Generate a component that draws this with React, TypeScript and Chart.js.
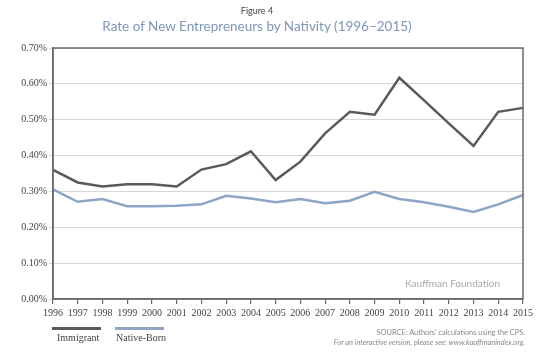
import React, { useEffect, useRef } from "react";
import { Chart, registerables } from "chart.js";

Chart.register(...registerables);

const years = ["1996","1997","1998","1999","2000","2001","2002","2003","2004","2005","2006","2007","2008","2009","2010","2011","2012","2013","2014","2015"];
const immigrant = [0.36,0.325,0.314,0.32,0.32,0.314,0.361,0.376,0.412,0.332,0.383,0.462,0.522,0.514,0.617,0.554,0.49,0.427,0.522,0.533];
const nativeBorn = [0.306,0.271,0.279,0.259,0.259,0.26,0.264,0.288,0.28,0.27,0.279,0.267,0.274,0.299,0.279,0.27,0.257,0.243,0.264,0.29];
const yTicks = [0, 0.1, 0.2, 0.3, 0.4, 0.5, 0.6, 0.7];

const darkGray = "#5a5a5a";
const blue = "#8fa5c6";

const frame = {
  id: "frame",
  afterDraw(chart: any) {
    const { ctx, chartArea: a } = chart;
    ctx.save();
    ctx.strokeStyle = "#6a6a6a";
    ctx.lineWidth = 1.5;
    ctx.strokeRect(a.left, a.top, a.right - a.left, a.bottom - a.top);
    ctx.restore();
  },
};

export default function App() {
  const ref = useRef<HTMLCanvasElement>(null);
  useEffect(() => {
    const chart = new Chart(ref.current!, {
      type: "line",
      data: {
        labels: years,
        datasets: [
          { label: "Immigrant", data: immigrant, borderColor: darkGray, borderWidth: 2.5, pointRadius: 0, tension: 0 },
          { label: "Native-Born", data: nativeBorn, borderColor: blue, borderWidth: 2.5, pointRadius: 0, tension: 0 },
        ],
      },
      options: {
        animation: false,
        responsive: false,
        maintainAspectRatio: false,
        layout: { padding: { top: 48, right: 35, left: 0, bottom: 0 } },
        plugins: { legend: { display: false }, tooltip: { enabled: false } },
        scales: {
          x: {
            offset: false,
            grid: { drawOnChartArea: false, drawTicks: true, tickLength: 5, color: "#6a6a6a", lineWidth: 1.2 },
            border: { display: true, color: "#6a6a6a", width: 1.5 },
            ticks: { color: "#444", font: { family: "Liberation Serif", size: 10 }, padding: 3, maxRotation: 0, autoSkip: false },
            afterFit(s: any) { s.height = 57; },
          },
          y: {
            min: 0,
            max: 0.7,
            afterBuildTicks(s: any) { s.ticks = yTicks.map((v) => ({ value: v })); },
            grid: { color: "#d6d6d6", lineWidth: 1, tickLength: 4, drawTicks: true },
            border: { display: true, color: "#6a6a6a", width: 1.5 },
            ticks: {
              color: "#444",
              font: { family: "Liberation Serif", size: 10 },
              padding: 2,
              callback: (v: any) => Number(v).toFixed(2) + "%",
            },
            afterFit(s: any) { s.width = 53; },
          },
        },
      },
      plugins: [frame],
    });
    return () => chart.destroy();
  }, []);

  const abs = (o: React.CSSProperties): React.CSSProperties => ({ position: "absolute", margin: 0, whiteSpace: "nowrap", lineHeight: 1, ...o });

  return (
    <div style={{ position: "fixed", left: 0, top: 0, width: 558, height: 356, background: "#fff", overflow: "hidden" }}>
      <canvas ref={ref} width={558} height={356} style={{ position: "absolute", left: 0, top: 0 }} />
      <div style={abs({ left: 0, width: 514, top: 6, textAlign: "center", fontFamily: "Lato", fontSize: 9, color: "#444" })}>Figure 4</div>
      <div style={abs({ left: 0, width: 514, top: 20, textAlign: "center", fontFamily: "Lato", fontSize: 13.5, color: "#7f96b8" })}>Rate of New Entrepreneurs by Nativity (1996–2015)</div>
      <div style={abs({ left: 405, top: 278, fontFamily: "Lato", fontSize: 10, color: "#a8a8a8" })}>Kauffman Foundation</div>
      <div style={abs({ left: 52, top: 327, width: 49, height: 3, background: darkGray })} />
      <div style={abs({ left: 115, top: 327, width: 49, height: 3, background: blue })} />
      <div style={abs({ left: 57, top: 333, fontFamily: "Liberation Serif", fontSize: 10, color: "#444" })}>Immigrant</div>
      <div style={abs({ left: 116, top: 333, fontFamily: "Liberation Serif", fontSize: 10, color: "#444" })}>Native-Born</div>
      <div style={abs({ right: 33, top: 329, textAlign: "right", fontFamily: "Lato", fontSize: 7.4, color: "#888" })}>SOURCE: Authors’ calculations using the CPS.</div>
      <div style={abs({ right: 33, top: 339, textAlign: "right", fontFamily: "Lato", fontStyle: "italic", fontSize: 7.4, color: "#888" })}>For an interactive version, please see: www.kauffmanindex.org.</div>
    </div>
  );
}
